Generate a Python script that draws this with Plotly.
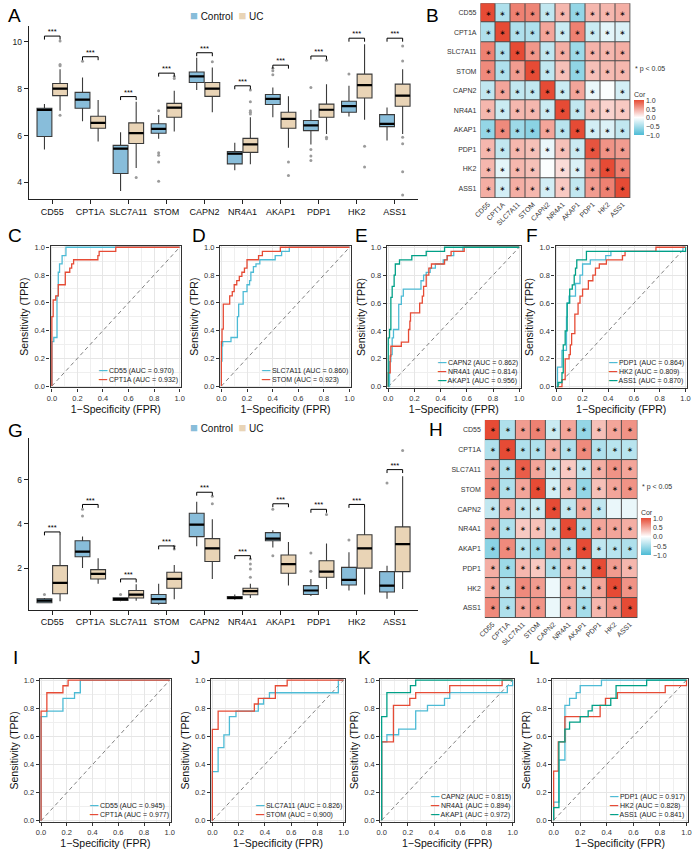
import plotly.graph_objects as go

W, H = 700, 851
FONT = "Liberation Sans, Arial, Helvetica, sans-serif"
C_CTRL = "#88BDDA"
C_UC = "#E9D4B6"
BLUE, RED, GREEN = "#4DBBD5", "#E64B35", "#00A087"

genes = ["CD55", "CPT1A", "SLC7A11", "STOM", "CAPN2", "NR4A1", "AKAP1", "PDP1", "HK2", "ASS1"]

# ---------------- Panel A (training cohort) box statistics ----------------
A_ctrl_q1 = [5.96, 7.16, 4.38, 6.10, 8.26, 4.79, 7.32, 6.21, 6.99, 6.38]
A_ctrl_med = [7.09, 7.53, 5.44, 6.28, 8.52, 5.23, 7.56, 6.43, 7.25, 6.50]
A_ctrl_q3 = [7.16, 7.84, 5.58, 6.50, 8.71, 5.32, 7.75, 6.64, 7.46, 6.89]
A_ctrl_lo = [5.40, 6.61, 3.63, 5.86, 7.94, 4.52, 6.78, 5.62, 6.81, 5.79]
A_ctrl_hi = [7.34, 8.47, 6.14, 6.88, 9.32, 5.69, 8.05, 7.10, 8.12, 7.20]
A_ctrl_out = [[], [9.17], [], [7.06, 5.27, 5.16, 4.87, 4.05], [], [], [8.87, 8.76, 8.59],
              [8.05, 5.40, 5.13, 4.94], [8.62], []]
A_uc_q1 = [7.70, 6.31, 5.66, 6.78, 7.67, 5.28, 6.31, 6.78, 7.60, 7.25]
A_uc_med = [8.00, 6.54, 6.10, 7.19, 8.00, 5.62, 6.71, 7.10, 8.15, 7.70]
A_uc_q3 = [8.22, 6.82, 6.54, 7.37, 8.26, 5.88, 6.99, 7.34, 8.62, 8.19]
A_uc_lo = [7.06, 5.75, 4.62, 6.17, 6.99, 4.77, 5.48, 6.07, 6.67, 6.07]
A_uc_hi = [8.83, 7.51, 7.44, 7.91, 8.90, 6.78, 7.67, 8.19, 9.89, 8.83]
A_uc_out = [[6.86, 9.03, 8.97, 10.03], [], [4.21], [8.43, 8.52], [9.15],
            [7.94, 7.44, 7.06, 6.99, 6.92], [4.87, 4.29], [9.21, 5.93, 5.86], [5.54, 4.66],
            [9.18, 9.82, 5.93, 5.65, 4.45, 3.46]]
A_sig = [10.24, 9.36, 7.66, 8.66, 9.53, 8.12, 9.00, 9.39, 10.15, 10.15]

# ---------------- Panel G (validation cohort) box statistics ----------------
G_ctrl_q1 = [0.45, 2.52, 0.55, 0.42, 3.43, 0.63, 3.24, 0.82, 1.25, 0.93]
G_ctrl_med = [0.54, 2.75, 0.61, 0.61, 3.97, 0.67, 3.34, 1.00, 1.48, 1.22]
G_ctrl_q3 = [0.63, 3.24, 0.67, 0.82, 4.48, 0.73, 3.61, 1.22, 2.04, 1.85]
G_ctrl_lo = [0.43, 2.01, 0.52, 0.36, 2.99, 0.58, 2.94, 0.75, 1.00, 0.63]
G_ctrl_hi = [0.66, 3.43, 0.67, 1.30, 5.00, 0.82, 3.72, 1.52, 2.72, 2.12]
G_ctrl_out = [[0.82], [4.66, 4.36], [0.82], [], [], [], [4.66, 2.57], [2.69, 1.87], [3.28], [5.85]]
G_uc_q1 = [0.85, 1.52, 0.66, 1.10, 2.31, 0.81, 1.78, 1.60, 2.01, 1.85]
G_uc_med = [1.34, 1.75, 0.81, 1.52, 2.90, 0.97, 2.19, 1.85, 2.90, 3.09]
G_uc_q3 = [2.12, 1.94, 1.00, 1.82, 3.34, 1.10, 2.60, 2.34, 3.51, 3.87]
G_uc_lo = [0.52, 1.30, 0.54, 0.60, 1.52, 0.66, 1.22, 1.07, 0.82, 1.07]
G_uc_hi = [3.49, 2.45, 1.28, 2.15, 4.21, 1.30, 3.19, 3.12, 4.73, 6.15]
G_uc_out = [[], [], [], [2.87, 2.99], [4.91, 5.25], [1.60, 1.97, 2.19, 2.42], [], [4.43], [], [7.31]]
G_sig = [3.64, 4.88, 1.52, 3.01, 5.43, 2.57, 4.91, 4.66, 4.88, 6.45]

# ---------------- Panels B / H correlation matrices ----------------
corr_B = [
    [1.00, -0.45, 0.70, 0.68, -0.35, 0.40, -0.60, 0.40, 0.40, 0.45],
    [-0.45, 1.00, -0.45, -0.45, 0.50, -0.30, 0.70, -0.30, -0.15, -0.20],
    [0.70, -0.45, 1.00, 0.58, -0.35, 0.45, -0.55, 0.42, 0.40, 0.45],
    [0.65, -0.45, 0.55, 1.00, -0.35, 0.35, -0.62, 0.35, 0.38, 0.40],
    [-0.35, 0.50, -0.35, -0.35, 1.00, -0.30, 0.50, -0.12, -0.02, -0.25],
    [0.40, -0.30, 0.40, 0.40, -0.30, 1.00, -0.35, 0.35, 0.25, 0.30],
    [-0.60, 0.65, -0.55, -0.65, 0.50, -0.40, 1.00, -0.25, -0.20, -0.35],
    [0.40, -0.35, 0.40, 0.35, -0.12, 0.35, -0.30, 0.95, 0.60, 0.55],
    [0.40, -0.15, 0.40, 0.35, -0.02, 0.20, -0.20, 0.60, 1.00, 0.70],
    [0.45, -0.25, 0.45, 0.40, -0.25, 0.30, -0.35, 0.55, 0.70, 1.00]]
stars_B_missing = [(4, 8), (8, 4)]

corr_H = [
    [1.00, -0.45, 0.55, 0.70, -0.30, 0.50, -0.60, 0.35, 0.50, 0.60],
    [-0.45, 1.00, -0.45, -0.45, 0.45, -0.45, 0.65, -0.45, -0.40, -0.40],
    [0.55, -0.45, 0.90, 0.50, -0.30, 0.30, -0.35, 0.45, 0.60, 0.50],
    [0.70, -0.45, 0.50, 1.00, -0.25, 0.40, -0.60, 0.35, 0.50, 0.60],
    [-0.35, 0.50, -0.35, -0.30, 1.00, -0.35, 0.50, -0.35, -0.12, -0.12],
    [0.55, -0.45, 0.30, 0.35, -0.35, 1.00, -0.45, 0.50, 0.50, 0.45],
    [-0.65, 0.65, -0.40, -0.55, 0.55, -0.45, 1.00, -0.35, -0.40, -0.45],
    [0.45, -0.55, 0.40, 0.30, -0.45, 0.45, -0.35, 1.00, 0.55, 0.40],
    [0.50, -0.40, 0.65, 0.55, -0.10, 0.50, -0.35, 0.50, 1.00, 0.60],
    [0.65, -0.45, 0.50, 0.60, -0.12, 0.45, -0.50, 0.40, 0.60, 1.00]]
stars_H_missing = [(4, 8), (4, 9), (8, 4), (9, 4)]

# ---------------- ROC curves (FPR / TPR step vertices) ----------------
C_names = ["CD55", "CPT1A"]
C_auc = [0.970, 0.932]
C_fpr = [[0, 0, 0.015, 0.04, 0.05, 0.06, 0.08, 0.11, 1.0],
         [0, 0, 0.01, 0.03, 0.05, 0.105, 0.14, 0.155, 0.17, 0.36, 0.37, 0.50, 1.0]]
C_tpr = [[0, 0.32, 0.35, 0.65, 0.82, 0.88, 0.94, 1.0, 1.0],
         [0, 0.50, 0.62, 0.65, 0.73, 0.82, 0.85, 0.88, 0.91, 0.94, 0.97, 1.0, 1.0]]

D_names = ["SLC7A11", "STOM"]
D_auc = [0.860, 0.923]
D_fpr = [[0, 0, 0.005, 0.01, 0.075, 0.125, 0.135, 0.17, 0.2, 0.22, 0.23, 0.25, 0.27, 0.3, 0.42, 0.47, 0.53, 1.0],
         [0, 0, 0.005, 0.015, 0.065, 0.085, 0.1, 0.12, 0.14, 0.16, 0.18, 0.2, 0.29, 0.32, 0.46, 1.0]]
D_tpr = [[0, 0.18, 0.29, 0.32, 0.35, 0.5, 0.59, 0.68, 0.73, 0.76, 0.82, 0.86, 0.88, 0.91, 0.94, 0.97, 1.0, 1.0],
         [0, 0.32, 0.41, 0.59, 0.65, 0.68, 0.73, 0.76, 0.79, 0.82, 0.85, 0.91, 0.94, 0.97, 1.0, 1.0]]

E_names = ["CAPN2", "NR4A1", "AKAP1"]
E_auc = [0.862, 0.814, 0.956]
E_fpr = [[0, 0.01, 0.02, 0.03, 0.04, 0.08, 0.1, 0.115, 0.25, 0.27, 0.29, 0.32, 0.36, 0.42, 0.45, 0.5, 0.57, 1.0],
         [0, 0, 0.015, 0.02, 0.1, 0.155, 0.165, 0.17, 0.24, 0.26, 0.27, 0.29, 0.31, 0.33, 0.43, 0.45, 0.48, 0.58, 1.0],
         [0, 0, 0.01, 0.02, 0.03, 0.045, 0.054, 0.086, 0.18, 0.29, 0.43, 1.0]]
E_tpr = [[0, 0.18, 0.23, 0.35, 0.41, 0.59, 0.65, 0.7, 0.76, 0.8, 0.82, 0.85, 0.88, 0.91, 0.94, 0.97, 1.0, 1.0],
         [0, 0.1, 0.22, 0.29, 0.32, 0.41, 0.47, 0.53, 0.6, 0.65, 0.72, 0.8, 0.85, 0.88, 0.91, 0.94, 0.97, 1.0, 1.0],
         [0, 0.35, 0.41, 0.64, 0.72, 0.8, 0.88, 0.91, 0.94, 0.97, 1.0, 1.0]]

F_names = ["PDP1", "HK2", "ASS1"]
F_auc = [0.864, 0.809, 0.870]
F_fpr = [[0, 0.005, 0.04, 0.075, 0.08, 0.095, 0.145, 0.18, 0.2, 0.26, 0.38, 0.42, 0.98, 1.0],
         [0, 0.04, 0.065, 0.095, 0.105, 0.115, 0.14, 0.165, 0.18, 0.2, 0.245, 0.28, 0.3, 0.33, 0.385, 0.51, 0.53, 0.77, 1.0],
         [0, 0.01, 0.04, 0.05, 0.065, 0.08, 0.1, 0.12, 0.135, 0.145, 0.155, 0.23, 1.0]]
F_tpr = [[0, 0.14, 0.26, 0.5, 0.6, 0.65, 0.74, 0.8, 0.88, 0.91, 0.94, 0.97, 1.0, 1.0],
         [0, 0.05, 0.2, 0.23, 0.3, 0.38, 0.52, 0.6, 0.65, 0.7, 0.76, 0.8, 0.85, 0.88, 0.91, 0.94, 0.97, 1.0, 1.0],
         [0, 0.03, 0.1, 0.3, 0.4, 0.6, 0.7, 0.73, 0.8, 0.85, 0.91, 0.97, 1.0]]

I_names = ["CD55", "CPT1A"]
I_auc = [0.945, 0.977]
I_fpr = [[0, 0, 0.045, 0.17, 0.26, 0.305, 1.0],
         [0, 0, 0.045, 0.17, 0.21, 1.0]]
I_tpr = [[0, 0.74, 0.78, 0.87, 0.91, 1.0, 1.0],
         [0, 0.78, 0.91, 0.96, 1.0, 1.0]]

J_names = ["SLC7A11", "STOM"]
J_auc = [0.826, 0.900]
J_fpr = [[0, 0, 0.044, 0.088, 0.13, 0.18, 0.35, 0.39, 0.435, 0.96, 1.0],
         [0, 0, 0.044, 0.32, 0.35, 0.48, 0.57, 1.0]]
J_tpr = [[0, 0.35, 0.52, 0.61, 0.74, 0.78, 0.83, 0.87, 0.91, 1.0, 1.0],
         [0, 0.65, 0.78, 0.83, 0.87, 0.96, 1.0, 1.0]]

K_names = ["CAPN2", "NR4A1", "AKAP1"]
K_auc = [0.815, 0.894, 0.972]
K_fpr = [[0, 0, 0.04, 0.13, 0.26, 0.35, 0.48, 0.52, 0.96, 1.0],
         [0, 0, 0.09, 0.215, 0.26, 0.52, 0.92, 1.0],
         [0, 0, 0.04, 0.22, 0.26, 1.0]]
K_tpr = [[0, 0.56, 0.61, 0.65, 0.78, 0.82, 0.87, 0.91, 0.96, 1.0],
         [0, 0.56, 0.82, 0.87, 0.91, 0.96, 1.0, 1.0],
         [0, 0.74, 0.91, 0.96, 1.0, 1.0]]

L_names = ["PDP1", "HK2", "ASS1"]
L_auc = [0.917, 0.828, 0.841]
L_fpr = [[0, 0, 0.04, 0.085, 0.12, 0.17, 0.2, 0.36, 1.0],
         [0, 0, 0.035, 0.085, 0.35, 0.39, 0.48, 0.84, 1.0],
         [0, 0, 0.04, 0.085, 0.12, 0.2, 0.26, 0.29, 0.43, 0.47, 0.7, 1.0]]
L_tpr = [[0, 0.13, 0.43, 0.82, 0.87, 0.91, 0.96, 1.0, 1.0],
         [0, 0.35, 0.56, 0.74, 0.82, 0.87, 0.91, 0.96, 1.0],
         [0, 0.09, 0.56, 0.65, 0.7, 0.74, 0.78, 0.82, 0.87, 0.96, 1.0, 1.0]]

roc_colors2 = [BLUE, RED]
roc_colors3 = [BLUE, RED, GREEN]

# ---------------------------------------------------------------------------
fig = go.Figure()
layout = {}
annotations = []
shapes = []


def ref(n, k):
    return k + ("" if n == 1 else str(n))


def akey(n, k):
    return k + "axis" + ("" if n == 1 else str(n))


def set_axes(n, xd, yd, xo, yo):
    layout[akey(n, "x")] = dict(domain=[xd[0] / W, xd[1] / W], anchor=ref(n, "y"), **xo)
    layout[akey(n, "y")] = dict(domain=[1 - yd[1] / H, 1 - yd[0] / H], anchor=ref(n, "x"), **yo)


def fx(p):
    return p / W


def fy(p):
    return 1 - p / H


OFF = 0.205
BW = 0.39


def box_panel(n, stats, outs, sig, yr, ytv, xd, yd):
    xa, ya = ref(n, "x"), ref(n, "y")
    pos = {"c": [i - OFF for i in range(len(genes))], "u": [i + OFF for i in range(len(genes))]}
    cols = {"c": C_CTRL, "u": C_UC}
    for key in ("c", "u"):
        q1, med, q3, lo, hi = stats[key]
        fig.add_trace(go.Box(x=pos[key], q1=q1, median=med, q3=q3, lowerfence=lo, upperfence=hi,
                             width=BW, fillcolor=cols[key], line=dict(color="#3a3a3a", width=1.1),
                             whiskerwidth=0, boxpoints=False, showlegend=False,
                             xaxis=xa, yaxis=ya, hoverinfo="skip"))
        mx, my = [], []
        for x, m in zip(pos[key], med):
            mx += [x - BW / 2, x + BW / 2, None]
            my += [m, m, None]
        fig.add_trace(go.Scatter(x=mx, y=my, mode="lines", line=dict(color="black", width=2.2),
                                 showlegend=False, xaxis=xa, yaxis=ya, hoverinfo="skip"))
        ox, oy = [], []
        for x, vals in zip(pos[key], outs[key]):
            ox += [x] * len(vals)
            oy += vals
        fig.add_trace(go.Scatter(x=ox, y=oy, mode="markers", marker=dict(size=3, color="#9b9b9b"),
                                 showlegend=False, xaxis=xa, yaxis=ya, hoverinfo="skip"))
    tk = (yr[1] - yr[0]) * 0.02
    bx, by = [], []
    for i, h in enumerate(sig):
        bx += [i - OFF, i - OFF, i + OFF, i + OFF, None]
        by += [h - tk, h, h, h - tk, None]
    fig.add_trace(go.Scatter(x=bx, y=by, mode="lines", line=dict(color="black", width=1),
                             showlegend=False, xaxis=xa, yaxis=ya, hoverinfo="skip"))
    fig.add_trace(go.Scatter(x=list(range(len(genes))), y=sig, mode="text", text=["***"] * len(sig),
                             textposition="top center", textfont=dict(size=7.5, color="black", family=FONT),
                             showlegend=False, xaxis=xa, yaxis=ya, hoverinfo="skip", cliponaxis=False))
    set_axes(n, xd, yd,
             dict(range=[-0.62, 9.62], tickvals=list(range(len(genes))), ticktext=genes,
                  showline=True, linecolor="#222", linewidth=1, ticks="outside", ticklen=4,
                  tickcolor="#222", tickfont=dict(size=9, color="#111", family=FONT),
                  showgrid=False, zeroline=False),
             dict(range=yr, tickvals=ytv, ticktext=[str(v) for v in ytv],
                  showline=True, linecolor="#222", linewidth=1, ticks="outside", ticklen=4,
                  tickcolor="#222", tickfont=dict(size=8.5, color="#222", family=FONT),
                  showgrid=False, zeroline=False))
    # legend (Control / UC)
    top = yd[0]
    leg = ("<span style='color:%s;font-size:13px'>■</span> Control  "
           "<span style='color:%s;font-size:13px'>■</span> UC") % (C_CTRL, C_UC)
    annotations.append(dict(x=fx(184), y=fy(top - 10), xref="paper", yref="paper", text=leg,
                            showarrow=False, xanchor="left", yanchor="middle",
                            font=dict(size=10, color="#111", family=FONT)))


CSCALE = [[0, BLUE], [0.5, "#FFFFFF"], [1, RED]]


def heat_panel(n, z, missing, xd, yd, cbx, cbtop, cblen, notey):
    xa, ya = ref(n, "x"), ref(n, "y")
    txt = [["∗" for _ in genes] for _ in genes]
    for r, c in missing:
        txt[r][c] = ""
    fig.add_trace(go.Heatmap(z=z, x=genes, y=genes, text=txt, texttemplate="%{text}",
                             textfont=dict(size=7, color="black", family="DejaVu Sans"),
                             colorscale=CSCALE, zmin=-1, zmax=1, xgap=1, ygap=1,
                             xaxis=xa, yaxis=ya, hoverinfo="skip",
                             colorbar=dict(x=fx(cbx), xanchor="left", y=fy(cbtop), yanchor="top",
                                           len=cblen, lenmode="pixels", thickness=10,
                                           thicknessmode="pixels", xpad=0, ypad=0,
                                           outlinewidth=0, ticks="",
                                           tickvals=[-1, -0.5, 0, 0.5, 1],
                                           ticktext=["−1.0", "−0.5", "0.0", "0.5", "1.0"],
                                           tickfont=dict(size=7, color="#333", family=FONT),
                                           title=dict(text="Cor", side="top",
                                                      font=dict(size=7, color="#333", family=FONT)))))
    shapes.append(dict(type="rect", xref=xa, yref=ya, x0=-0.56, x1=9.56, y0=-0.56, y1=9.56,
                       fillcolor="#4a4a4a", line=dict(width=0), layer="below"))
    set_axes(n, xd, yd,
             dict(type="category", range=[-0.5, 9.5], tickangle=-45, ticks="", showline=False,
                  showgrid=False, zeroline=False, tickfont=dict(size=7, color="#333", family=FONT)),
             dict(type="category", range=[9.5, -0.5], ticks="", showline=False, showgrid=False,
                  zeroline=False, ticklabelstandoff=3,
                  tickfont=dict(size=7, color="#333", family=FONT)))
    annotations.append(dict(x=fx(cbx - 0.5), y=fy(notey), xref="paper", yref="paper",
                            text="* p < 0.05", showarrow=False, xanchor="left", yanchor="middle",
                            font=dict(size=7, color="#333", family=FONT)))


def roc_panel(n, names, aucs, fprs, tprs, colors, frame):
    xa, ya = ref(n, "x"), ref(n, "y")
    x0, x1, y0, y1 = frame
    fig.add_trace(go.Scatter(x=[0, 1], y=[0, 1], mode="lines",
                             line=dict(color="#808080", width=1, dash="4px,3px"),
                             showlegend=False, xaxis=xa, yaxis=ya, hoverinfo="skip"))
    for nm, fp, tp, col in zip(names, fprs, tprs, colors):
        fig.add_trace(go.Scatter(x=fp, y=tp, mode="lines", line=dict(color=col, width=1.3, shape="hv"),
                                 showlegend=False, xaxis=xa, yaxis=ya, hoverinfo="skip"))
    rows = ["<span style='color:%s'>━━</span> %s (AUC = %.3f)" % (c, nm, a)
            for nm, a, c in zip(names, aucs, colors)]
    annotations.append(dict(x=fx(x1 - 1.5), y=fy(y1 - 2.0), xref="paper", yref="paper",
                            text="<br>".join(rows), align="left", showarrow=False,
                            xanchor="right", yanchor="bottom", borderpad=0,
                            font=dict(size=7, color="#222", family=FONT)))
    tv = [0, 0.2, 0.4, 0.6, 0.8, 1.0]
    common = dict(range=[-0.01, 1.01], tickvals=tv, ticktext=["%.1f" % v for v in tv],
                  showgrid=True, gridcolor="#E6E6E6", gridwidth=1,
                  minor=dict(tickvals=[0.1, 0.3, 0.5, 0.7, 0.9], showgrid=True,
                             gridcolor="#EFEFEF", gridwidth=0.7, ticks=""),
                  showline=True, mirror=True, linecolor="#333", linewidth=1.3,
                  ticks="outside", ticklen=3, tickcolor="#333",
                  tickfont=dict(size=7.5, color="#333", family=FONT), zeroline=False)
    set_axes(n, (x0, x1), (y0, y1),
             dict(title=dict(text="1−Specificity (FPR)", standoff=3,
                             font=dict(size=10.5, color="#111", family=FONT)), **common),
             dict(title=dict(text="Sensitivity (TPR)", standoff=3,
                             font=dict(size=10.5, color="#111", family=FONT)), **common))


# ---- build panels ----
box_panel(1,
          {"c": (A_ctrl_q1, A_ctrl_med, A_ctrl_q3, A_ctrl_lo, A_ctrl_hi),
           "u": (A_uc_q1, A_uc_med, A_uc_q3, A_uc_lo, A_uc_hi)},
          {"c": A_ctrl_out, "u": A_uc_out}, A_sig, [3.28, 10.69], [4, 6, 8, 10],
          (22, 418), (22.7, 197.7))
heat_panel(2, corr_B, stars_B_missing, (481, 633.3), (0.2, 196.5), 637, 86, 47, 66)

roc_panel(3, C_names, C_auc, C_fpr, C_tpr, roc_colors2, (44.3, 176.7, 244.6, 387.2))
roc_panel(4, D_names, D_auc, D_fpr, D_tpr, roc_colors2, (216.5, 349.3, 244.6, 387.2))
roc_panel(5, E_names, E_auc, E_fpr, E_tpr, roc_colors3, (386.0, 521.7, 244.6, 387.8))
roc_panel(6, F_names, F_auc, F_fpr, F_tpr, roc_colors3, (557.3, 690.7, 244.6, 387.8))

box_panel(7,
          {"c": (G_ctrl_q1, G_ctrl_med, G_ctrl_q3, G_ctrl_lo, G_ctrl_hi),
           "u": (G_uc_q1, G_uc_med, G_uc_q3, G_uc_lo, G_uc_hi)},
          {"c": G_ctrl_out, "u": G_uc_out}, G_sig, [0.134, 7.88], [2, 4, 6],
          (22, 418), (438, 611))
heat_panel(8, corr_H, stars_H_missing, (485.5, 640.5), (420, 619.3), 644, 507, 49, 487.3)

roc_panel(9, I_names, I_auc, I_fpr, I_tpr, roc_colors2, (33.3, 166.7, 680.5, 825.0))
roc_panel(10, J_names, J_auc, J_fpr, J_tpr, roc_colors2, (207.3, 343.3, 680.5, 825.0))
roc_panel(11, K_names, K_auc, K_fpr, K_tpr, roc_colors3, (379.3, 515.0, 680.5, 824.5))
roc_panel(12, L_names, L_auc, L_fpr, L_tpr, roc_colors3, (554.0, 691.7, 680.5, 824.5))

# panel letters
letters = [("A", 0.5, 12.7), ("B", 424.5, 12.2), ("C", 0.5, 233.7), ("D", 186.5, 233.7),
           ("E", 353.0, 234.5), ("F", 526.0, 234.0), ("G", 0.5, 430.3), ("H", 427.5, 430.0),
           ("I", 5.0, 659.0), ("J", 185.5, 659.0), ("K", 356.0, 659.0), ("L", 529.0, 659.0)]
for t, lx, ly in letters:
    annotations.append(dict(x=fx(lx), y=fy(ly), xref="paper", yref="paper", text=t,
                            showarrow=False, xanchor="left", yanchor="middle", borderpad=0,
                            font=dict(size=19, color="black", family=FONT)))

fig.update_layout(width=W, height=H, margin=dict(l=0, r=0, t=0, b=0), autosize=False,
                  paper_bgcolor="white", plot_bgcolor="white", showlegend=False,
                  font=dict(family=FONT, color="#222"),
                  annotations=annotations, shapes=shapes, **layout)

fig.write_html("out.html", config={"displayModeBar": False})
